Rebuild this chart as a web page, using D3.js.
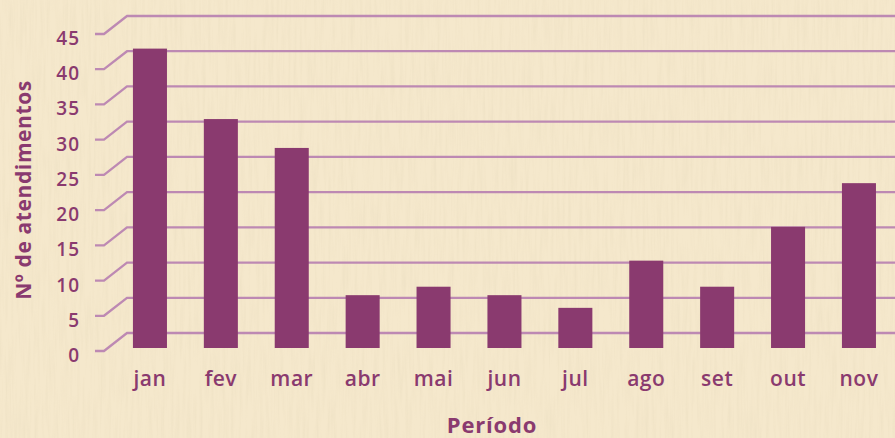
<!DOCTYPE html>
<html>
<head>
<meta charset="utf-8">
<script src="https://cdn.jsdelivr.net/npm/d3@7"></script>
<style>
  body { margin: 0; background: #f4e6c9; }
  svg { display: block; }
</style>
</head>
<body>
<div id="chart"></div>
<script>
// data
var months = ["jan", "fev", "mar", "abr", "mai", "jun", "jul", "ago", "set", "out", "nov"];
var atendimentos = [42.5, 32.5, 28.4, 7.5, 8.7, 7.5, 5.7, 12.4, 8.7, 17.2, 23.4];
var yTicks = [0, 5, 10, 15, 20, 25, 30, 35, 40, 45];

var W = 895, H = 438;
var purple = "#8a3a6f";
var gridColor = "#bd89b3";
// fake 3d: back wall offset
var depthX = 23, depthY = -18, barShift = -3;

var svg = d3.select("#chart")
  .append("svg")
    .attr("width", W)
    .attr("height", H);

// paper texture
var defs = svg.append("defs");
var f = defs.append("filter").attr("id", "paper")
  .attr("x", 0).attr("y", 0).attr("width", "100%").attr("height", "100%");
f.append("feTurbulence")
  .attr("type", "fractalNoise")
  .attr("baseFrequency", "0.35 0.02")
  .attr("numOctaves", 3)
  .attr("seed", 7);
f.append("feColorMatrix")
  .attr("type", "matrix")
  .attr("values", "0 0 0 0 0.80  0 0 0 0 0.70  0 0 0 0 0.50  0 0 0 -2.2 1.35");

svg.append("rect")
  .attr("width", W).attr("height", H)
  .attr("fill", "#f5e8cc");
svg.append("rect")
  .attr("width", W).attr("height", H)
  .attr("filter", "url(#paper)")
  .attr("opacity", 0.3);

// scales
var x = d3.scaleBand()
  .domain(months)
  .range([114.5, 894.4])
  .paddingInner(0.52)
  .paddingOuter(0.26);

var y = d3.scaleLinear()
  .domain([0, 45])
  .range([351, 34]);

// grid lines (front tick -> diagonal -> back wall)
svg.append("g")
  .selectAll("path")
  .data(yTicks)
  .enter()
  .append("path")
    .attr("d", function(d) {
      var yf = y(d);
      return "M95," + yf + "L104," + yf + "L" + (104 + depthX) + "," + (yf + depthY) + "L" + W + "," + (yf + depthY);
    })
    .attr("fill", "none")
    .attr("stroke", gridColor)
    .attr("stroke-width", 2.3);

// bars
svg.append("g")
  .selectAll("rect")
  .data(atendimentos)
  .enter()
  .append("rect")
    .attr("x", function(d, i) { return x(months[i]); })
    .attr("y", function(d) { return y(d) + barShift; })
    .attr("width", x.bandwidth())
    .attr("height", function(d) { return y(0) - y(d); })
    .attr("fill", purple);

// y axis labels
var yAxis = svg.append("g")
  .attr("transform", "translate(80,0)")
  .call(d3.axisLeft(y).tickValues(yTicks).tickSize(0).tickPadding(0));
yAxis.select(".domain").remove();
yAxis.selectAll("text")
  .attr("dy", "0.55em")
  .style("font-family", "'Open Sans', sans-serif")
  .style("font-weight", 600)
  .style("font-size", "19px")
  .style("letter-spacing", "1px")
  .attr("fill", purple);

// x axis labels
var xAxis = svg.append("g")
  .attr("transform", "translate(0,366)")
  .call(d3.axisBottom(x).tickSize(0).tickPadding(0));
xAxis.select(".domain").remove();
xAxis.selectAll("text")
  .attr("dy", "0.95em")
  .style("font-family", "'Open Sans', sans-serif")
  .style("font-weight", 600)
  .style("font-size", "21px")
  .style("letter-spacing", "0.5px")
  .attr("fill", purple);

// titles
svg.append("text")
  .attr("x", 492)
  .attr("y", 433)
  .attr("text-anchor", "middle")
  .style("font-family", "'Open Sans', sans-serif")
  .style("font-weight", 700)
  .style("font-size", "22px")
  .style("letter-spacing", "0.8px")
  .attr("fill", purple)
  .text("Período");

svg.append("text")
  .attr("transform", "translate(31,190) rotate(-90)")
  .attr("text-anchor", "middle")
  .style("font-family", "'Open Sans', sans-serif")
  .style("font-weight", 700)
  .style("font-size", "21px")
  .style("letter-spacing", "0.6px")
  .attr("fill", purple)
  .text("Nº de atendimentos");
</script>
</body>
</html>
